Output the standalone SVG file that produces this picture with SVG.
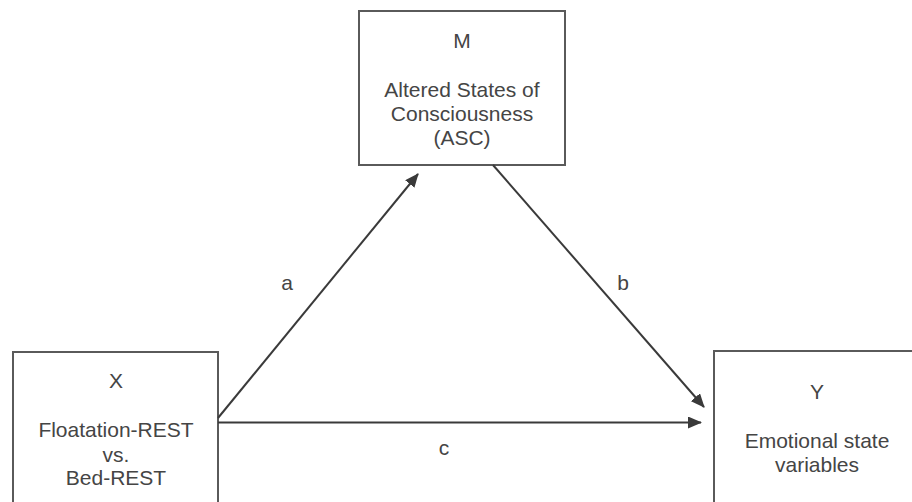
<svg xmlns="http://www.w3.org/2000/svg" width="912" height="502" viewBox="0 0 912 502">
<style>
.box{fill:#fff;stroke:#5a5a5a;stroke-width:2}
.t{font-family:"Liberation Sans",Arial,sans-serif;font-size:21px;fill:#454545;text-anchor:middle}
.edge{stroke:#3a3a3a;stroke-width:2;fill:none;marker-end:url(#ah)}
</style>
<defs>
<marker id="ah" markerUnits="userSpaceOnUse" markerWidth="14" markerHeight="12" refX="13" refY="6" orient="auto">
<path d="M0,0 L14,6 L0,12 z" fill="#3a3a3a"/>
</marker>
</defs>
<rect width="912" height="502" fill="#fff"/>
<g id="node-M">
<rect class="box" x="359" y="11" width="206" height="154"/>
<text class="t" x="462" y="48">M</text>
<text class="t" x="462" y="97">Altered States of</text>
<text class="t" x="462" y="121">Consciousness</text>
<text class="t" x="462" y="145">(ASC)</text>
</g>
<g id="node-X">
<rect class="box" x="13" y="352" width="205" height="160"/>
<text class="t" x="116" y="388">X</text>
<text class="t" x="116" y="437">Floatation-REST</text>
<text class="t" x="116" y="462">vs.</text>
<text class="t" x="116" y="485">Bed-REST</text>
</g>
<g id="node-Y">
<rect class="box" x="714" y="351" width="210" height="160"/>
<text class="t" x="817" y="399">Y</text>
<text class="t" x="817" y="448">Emotional state</text>
<text class="t" x="817" y="472">variables</text>
</g>
<g id="connectors">
<line class="edge" x1="218" y1="418" x2="418" y2="174"/>
<line class="edge" x1="493" y1="165" x2="704" y2="407"/>
<line class="edge" x1="218" y1="422.5" x2="701" y2="422.5"/>
<text class="t" x="287" y="290">a</text>
<text class="t" x="623" y="290">b</text>
<text class="t" x="444" y="455">c</text>
</g>
</svg>
